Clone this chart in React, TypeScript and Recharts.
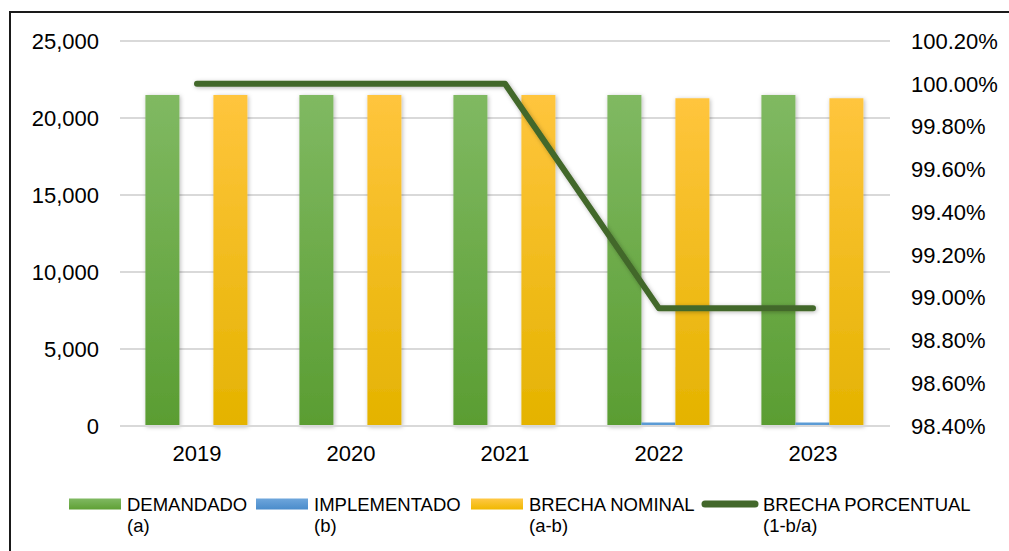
import * as React from 'react'
import { Bar, CartesianGrid, ComposedChart, Legend, Line, XAxis, YAxis } from 'recharts'

const YEARS = ['2019', '2020', '2021', '2022', '2023']
const DEMANDADO = [21500, 21500, 21500, 21500, 21500]
const IMPLEMENTADO = [0, 0, 0, 225, 225]
const BRECHA_NOMINAL = [21500, 21500, 21500, 21275, 21275]
const BRECHA_PORCENTUAL = [100, 100, 100, 98.95, 98.95]

const LEFT_TICKS = [0, 5000, 10000, 15000, 20000, 25000]
const RIGHT_TICKS = [98.4, 98.6, 98.8, 99.0, 99.2, 99.4, 99.6, 99.8, 100.0, 100.2]

const FONT = '"Liberation Sans", Arial, sans-serif'
const AXIS_TICK = { fontSize: 22, fill: '#000', fontFamily: FONT } as const

const LEGEND = [
  { label: 'DEMANDADO', sub: '(a)', kind: 'bar', fill: 'url(#lgGreen)', x: 69 },
  { label: 'IMPLEMENTADO', sub: '(b)', kind: 'bar', fill: 'url(#lgBlue)', x: 256 },
  { label: 'BRECHA NOMINAL', sub: '(a-b)', kind: 'bar', fill: 'url(#lgYellow)', x: 471 },
  { label: 'BRECHA PORCENTUAL', sub: '(1-b/a)', kind: 'line', fill: '#43682b', x: 705 }
] as const

const data = YEARS.map((year, i) => ({
  year,
  demandado: DEMANDADO[i],
  implementado: IMPLEMENTADO[i],
  brecha: BRECHA_NOMINAL[i],
  pct: BRECHA_PORCENTUAL[i]
}))

function ChartLegend(): React.JSX.Element {
  return (
    <svg width={1009} height={60} style={{ display: 'block' }}>
      <defs>
        <linearGradient id="lgGreen" x1="0" y1="0" x2="0" y2="1">
          <stop offset="0" stopColor="#80b962" />
          <stop offset="1" stopColor="#5fa035" />
        </linearGradient>
        <linearGradient id="lgBlue" x1="0" y1="0" x2="0" y2="1">
          <stop offset="0" stopColor="#6ea6dc" />
          <stop offset="1" stopColor="#4a8ccb" />
        </linearGradient>
        <linearGradient id="lgYellow" x1="0" y1="0" x2="0" y2="1">
          <stop offset="0" stopColor="#ffc845" />
          <stop offset="1" stopColor="#f0b800" />
        </linearGradient>
      </defs>
      {LEGEND.map((l) => (
        <g key={l.label}>
          {l.kind === 'bar' ? (
            <rect x={l.x} y={8.5} width={52} height={11} fill={l.fill} />
          ) : (
            <line x1={l.x} y1={14} x2={l.x + 50} y2={14} stroke={l.fill} strokeWidth={7} strokeLinecap="round" />
          )}
          <text x={l.x + 58} y={20.5} fontSize={18.5} fontFamily={FONT} fill="#000">
            {l.label}
          </text>
          <text x={l.x + 58} y={42} fontSize={18.5} fontFamily={FONT} fill="#000">
            {l.sub}
          </text>
        </g>
      ))}
    </svg>
  )
}

export default function App(): React.JSX.Element {
  return (
    <div style={{ position: 'absolute', left: 0, top: 0, width: 1009, height: 551, background: '#fff', overflow: 'hidden' }}>
      <div
        style={{
          position: 'absolute',
          left: 9,
          top: 11,
          width: 1020,
          height: 560,
          borderLeft: '2px solid #1a1a1a',
          borderTop: '2px solid #1a1a1a'
        }}
      />
      <ComposedChart
        width={1009}
        height={551}
        data={data}
        margin={{ top: 41, right: 0, bottom: 85, left: 0 }}
        barCategoryGap="16.5%"
        barGap={0}
      >
        <defs>
          <linearGradient id="gGreen" x1="0" y1="0" x2="0" y2="1">
            <stop offset="0" stopColor="#80b962" />
            <stop offset="1" stopColor="#5a9d32" />
          </linearGradient>
          <linearGradient id="gYellow" x1="0" y1="0" x2="0" y2="1">
            <stop offset="0" stopColor="#ffc53d" />
            <stop offset="1" stopColor="#e4b300" />
          </linearGradient>
          <filter id="shadow" x="-20%" y="-5%" width="140%" height="110%">
            <feDropShadow dx="1" dy="1" stdDeviation="2" floodColor="#000" floodOpacity="0.28" />
          </filter>
        </defs>
        <CartesianGrid yAxisId="left" stroke="#d9d9d9" strokeWidth={2} vertical={false} />
        <XAxis
          dataKey="year"
          tick={AXIS_TICK}
          tickLine={false}
          axisLine={{ stroke: '#d9d9d9', strokeWidth: 2 }}
          tickMargin={13}
          height={40}
        />
        <YAxis
          yAxisId="left"
          domain={[0, 25000]}
          ticks={LEFT_TICKS}
          tick={AXIS_TICK}
          tickFormatter={(v: number) => v.toLocaleString('en-US')}
          tickLine={false}
          axisLine={false}
          tickMargin={15}
          width={120}
        />
        <YAxis
          yAxisId="right"
          orientation="right"
          domain={[98.4, 100.2]}
          ticks={RIGHT_TICKS}
          tick={AXIS_TICK}
          tickFormatter={(v: number) => `${v.toFixed(2)}%`}
          tickLine={false}
          axisLine={false}
          tickMargin={15}
          width={119}
          allowDataOverflow
        />
        <Bar yAxisId="left" dataKey="demandado" name="DEMANDADO (a)" fill="url(#gGreen)" filter="url(#shadow)" isAnimationActive={false} />
        <Bar yAxisId="left" dataKey="implementado" name="IMPLEMENTADO (b)" fill="#5b9bd5" isAnimationActive={false} />
        <Bar yAxisId="left" dataKey="brecha" name="BRECHA NOMINAL (a-b)" fill="url(#gYellow)" filter="url(#shadow)" isAnimationActive={false} />
        <Line
          yAxisId="right"
          dataKey="pct"
          name="BRECHA PORCENTUAL (1-b/a)"
          stroke="#43682b"
          strokeWidth={6}
          strokeLinecap="round"
          strokeLinejoin="round"
          dot={false}
          activeDot={false}
          filter="url(#shadow)"
          isAnimationActive={false}
        />
        <Legend
          layout="horizontal"
          verticalAlign="middle"
          align="center"
          wrapperStyle={{ position: 'absolute', left: 0, top: 490, width: 1009, height: 60 }}
          content={<ChartLegend />}
        />
      </ComposedChart>
    </div>
  )
}
